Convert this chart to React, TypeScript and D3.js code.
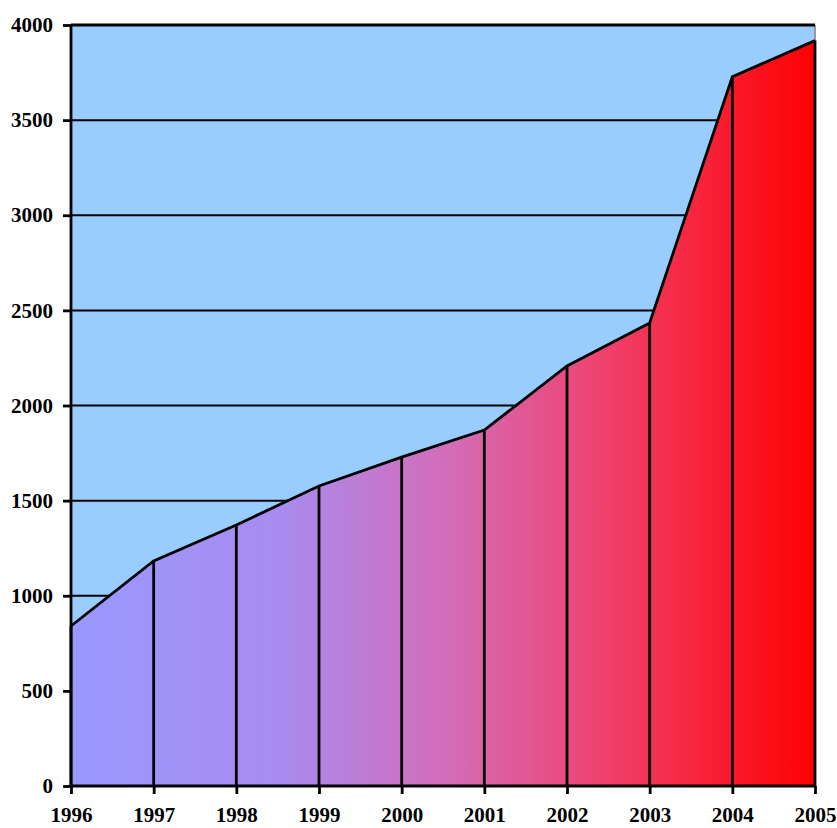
import * as d3 from 'd3';
import React, { useEffect, useRef } from 'react';

const years = [1996, 1997, 1998, 1999, 2000, 2001, 2002, 2003, 2004, 2005];
const values = [841, 1183, 1372, 1577, 1729, 1871, 2208, 2434, 3728, 3918];
const yTicks = [0, 500, 1000, 1500, 2000, 2500, 3000, 3500, 4000];
const gradStops = [
  { offset: 0, color: '#9999ff' },
  { offset: 0.28, color: '#a98bef' },
  { offset: 0.51, color: '#d46cb8' },
  { offset: 0.72, color: '#f0406c' },
  { offset: 1, color: '#ff0000' },
];

const App: React.FC = () => {
  const svgRef = useRef<SVGSVGElement | null>(null);

  useEffect(() => {
    if (!svgRef.current) return;

    const W = 837;
    const H = 828;
    const left = 71;
    const right = 815;
    const top = 25;
    const bottom = 786;
    const font = '"Liberation Serif", "Times New Roman", serif';

    const svg = d3.select(svgRef.current);
    svg.selectAll('*').remove();
    svg.attr('width', W).attr('height', H).attr('viewBox', `0 0 ${W} ${H}`);

    const x = d3.scaleLinear().domain([1996, 2005]).range([left, right]);
    const y = d3.scaleLinear().domain([0, 4000]).range([bottom, top]);

    const defs = svg.append('defs');
    const grad = defs
      .append('linearGradient')
      .attr('id', 'areaGrad')
      .attr('gradientUnits', 'userSpaceOnUse')
      .attr('x1', left)
      .attr('x2', right)
      .attr('y1', 0)
      .attr('y2', 0);
    grad
      .selectAll('stop')
      .data(gradStops)
      .enter()
      .append('stop')
      .attr('offset', (d) => d.offset)
      .attr('stop-color', (d) => d.color);

    // plot background
    svg
      .append('rect')
      .attr('x', left)
      .attr('y', top)
      .attr('width', right - left)
      .attr('height', bottom - top)
      .attr('fill', '#99ccff');

    // gridlines
    svg
      .append('g')
      .selectAll('line')
      .data(yTicks.filter((t) => t > 0))
      .enter()
      .append('line')
      .attr('x1', left)
      .attr('x2', right)
      .attr('y1', (d) => y(d))
      .attr('y2', (d) => y(d))
      .attr('stroke', '#000')
      .attr('stroke-width', 2);

    // right border (grey)
    svg
      .append('line')
      .attr('x1', right)
      .attr('x2', right)
      .attr('y1', top)
      .attr('y2', bottom)
      .attr('stroke', '#999')
      .attr('stroke-width', 2);

    const data = years.map((yr, i) => ({ yr, v: values[i] }));

    const area = d3
      .area<{ yr: number; v: number }>()
      .x((d) => x(d.yr))
      .y0(y(0))
      .y1((d) => y(d.v));

    svg
      .append('path')
      .datum(data)
      .attr('d', area)
      .attr('fill', 'url(#areaGrad)');

    // drop lines
    svg
      .append('g')
      .selectAll('line')
      .data(data)
      .enter()
      .append('line')
      .attr('x1', (d) => x(d.yr))
      .attr('x2', (d) => x(d.yr))
      .attr('y1', (d) => y(d.v))
      .attr('y2', y(0))
      .attr('stroke', '#000')
      .attr('stroke-width', 2.8);

    const line = d3
      .line<{ yr: number; v: number }>()
      .x((d) => x(d.yr))
      .y((d) => y(d.v));

    svg
      .append('path')
      .datum(data)
      .attr('d', line)
      .attr('fill', 'none')
      .attr('stroke', '#000')
      .attr('stroke-width', 2.8)
      .attr('stroke-linejoin', 'miter');

    // Y axis
    const yAxis = svg
      .append('g')
      .attr('transform', `translate(${left},0)`)
      .call(d3.axisLeft(y).tickValues(yTicks).tickSize(8).tickSizeOuter(0).tickPadding(10).tickFormat(d3.format('d')));
    yAxis.select('.domain').attr('stroke', '#000').attr('stroke-width', 2.8).attr('d', `M0,${top}V${bottom}`);
    yAxis.selectAll('.tick line').attr('stroke', '#000').attr('stroke-width', 2.8);
    yAxis
      .selectAll('.tick text')
      .attr('fill', '#000')
      .style('font-family', font)
      .style('font-size', '21px')
      .style('font-weight', 'bold');

    // X axis
    const xAxis = svg
      .append('g')
      .attr('transform', `translate(0,${bottom})`)
      .call(d3.axisBottom(x).tickValues(years).tickSize(8).tickSizeOuter(0).tickPadding(13).tickFormat(d3.format('d')));
    xAxis.select('.domain').attr('stroke', '#000').attr('stroke-width', 2.8).attr('d', `M${left},0H${right}`);
    xAxis.selectAll('.tick line').attr('stroke', '#000').attr('stroke-width', 2.8);
    xAxis
      .selectAll('.tick text')
      .attr('fill', '#000')
      .style('font-family', font)
      .style('font-size', '21px')
      .style('font-weight', 'bold');

    // top border
    svg
      .append('line')
      .attr('x1', left)
      .attr('x2', right)
      .attr('y1', top)
      .attr('y2', top)
      .attr('stroke', '#000')
      .attr('stroke-width', 2.8);
  }, []);

  return <svg ref={svgRef} style={{ position: 'absolute', left: 0, top: 0 }} />;
};

export default App;
